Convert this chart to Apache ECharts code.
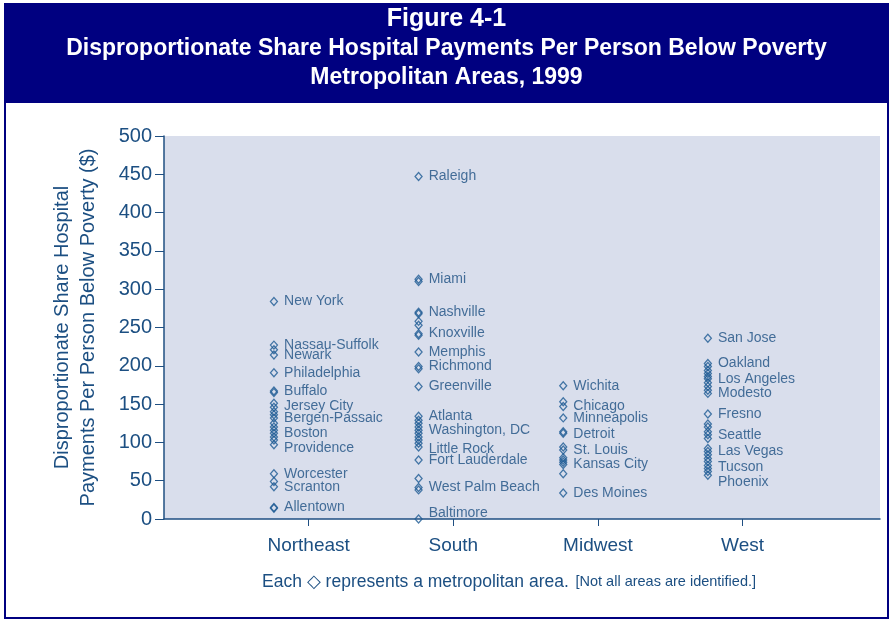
<!DOCTYPE html>
<html>
<head>
<meta charset="utf-8">
<title>Figure 4-1</title>
<script src="https://cdn.jsdelivr.net/npm/echarts@6/dist/echarts.min.js"></script>
<style>
  html, body { margin: 0; padding: 0; background: #fff; }
  #chart { width: 893px; height: 622px; }
</style>
</head>
<body>
<div id="chart"></div>
<script>
// regions on the x axis
var regions = ['Northeast', 'South', 'Midwest', 'West'];
var yTicks = [0, 50, 100, 150, 200, 250, 300, 350, 400, 450, 500];

// DSH payments per person below poverty ($)
var northeastValues = [284, 227, 221, 214, 191, 167, 165, 151, 146, 140, 136, 132, 125, 120, 116, 112, 107, 103, 97, 59, 49, 42, 15, 14];
var northeastNames  = ['New York', 'Nassau-Suffolk', '', 'Newark', 'Philadelphia', 'Buffalo', '', '', 'Jersey City', '', '', 'Bergen-Passaic', '', '', '', 'Boston', '', '', 'Providence', 'Worcester', '', 'Scranton', 'Allentown', ''];

var southValues = [447, 313, 310, 270, 268, 258, 253, 242, 240, 218, 199, 196, 173, 134, 129, 125, 120, 116, 112, 107, 103, 99, 94, 77, 53, 41, 38, 0];
var southNames  = ['Raleigh', 'Miami', '', 'Nashville', '', '', '', 'Knoxville', '', 'Memphis', 'Richmond', '', 'Greenville', 'Atlanta', '', '', '', 'Washington, DC', '', '', '', '', 'Little Rock', 'Fort Lauderdale', '', 'West Palm Beach', '', 'Baltimore'];

var midwestValues = [174, 153, 147, 132, 114, 112, 94, 90, 80, 77, 74, 71, 59, 34];
var midwestNames  = ['Wichita', '', 'Chicago', 'Minneapolis', 'Detroit', '', '', 'St. Louis', '', '', '', 'Kansas City', '', 'Des Moines'];

var westValues = [236, 203, 199, 194, 190, 186, 183, 178, 173, 168, 164, 137, 124, 120, 114, 110, 105, 92, 88, 84, 79, 75, 70, 66, 62, 57];
var westNames  = ['San Jose', 'Oakland', '', '', '', '', 'Los Angeles', '', '', '', 'Modesto', 'Fresno', '', '', '', 'Seattle', '', '', 'Las Vegas', '', '', '', 'Tucson', '', '', 'Phoenix'];

var regionValues = [northeastValues, southValues, midwestValues, westValues];
var regionNames = [northeastNames, southNames, midwestNames, westNames];

// a few labels sit a little off their diamond in the original
var labelShift = { 'Baltimore': -6, 'Phoenix': 7, 'Providence': 3, 'Jersey City': -1, 'Detroit': 2, 'Little Rock': 2, 'Tucson': 2 };

var textColor = '#1c4f82';
var lineColor = '#1f4f82';
var axisFont = 'Liberation Sans, Arial, sans-serif';

var myChart = echarts.init(document.getElementById('chart'), null, { renderer: 'canvas' });

var series = regionValues.map(function (vals, i) {
    var names = regionNames[i];
    return {
        type: 'scatter',
        name: regions[i],
        symbol: 'diamond',
        symbolSize: [7, 8],
        itemStyle: { color: 'rgba(0,0,0,0)', borderColor: '#1d5a94', borderWidth: 1.3 },
        emphasis: { disabled: true },
        data: vals.map(function (v, j) {
            var item = { value: [i + 0.76, v], name: names[j] };
            if (names[j]) item.label = { show: true };
            return item;
        }),
        label: {
            show: false,
            position: 'right',
            distance: 6,
            color: textColor,
            fontSize: 14,
            fontFamily: axisFont,
            formatter: function (p) { return p.name; }
        },
        labelLayout: function (params) {
            var dy = labelShift[params.text];
            return dy ? { dy: dy, hideOverlap: false } : { hideOverlap: false };
        }
    };
});

var option = {
    animation: false,
    backgroundColor: '#ffffff',
    grid: {
        left: 164, right: 13, top: 136, bottom: 103,
        show: true, backgroundColor: '#d9deec', borderWidth: 0
    },
    xAxis: {
        type: 'value',
        min: 0,
        max: 4.95,
        splitLine: { show: false },
        axisLine: { show: true, lineStyle: { color: lineColor, width: 1.5 } },
        axisTick: { show: true, customValues: [1, 2, 3, 4], length: 7, lineStyle: { color: lineColor } },
        axisLabel: {
            customValues: [1, 2, 3, 4],
            formatter: function (v) { return regions[Math.round(v) - 1] || ''; },
            color: textColor, fontSize: 19, margin: 17,
            fontFamily: axisFont
        }
    },
    yAxis: {
        type: 'value',
        min: yTicks[0],
        max: yTicks[yTicks.length - 1],
        interval: 50,
        splitLine: { show: false },
        axisLine: { show: true, lineStyle: { color: lineColor, width: 1.5 } },
        axisTick: { show: true, inside: false, length: 9, lineStyle: { color: lineColor } },
        axisLabel: { color: textColor, fontSize: 20, margin: 12, fontFamily: axisFont },
        name: 'Disproportionate Share Hospital\nPayments Per Person Below Poverty ($)',
        nameLocation: 'middle',
        nameGap: 63,
        nameTextStyle: { color: textColor, fontSize: 20, lineHeight: 26, fontFamily: axisFont }
    },
    graphic: [
        { type: 'rect', z: -1, shape: { x: 5, y: 4, width: 883, height: 99 }, style: { fill: '#000080' } },
        { type: 'rect', z: -1, shape: { x: 5, y: 4, width: 883, height: 614 }, style: { fill: 'rgba(0,0,0,0)', stroke: '#000080', lineWidth: 2 } },
        { type: 'text', left: 'center', top: 7, style: { text: 'Figure 4-1', fill: '#fff', font: 'bold 25px "Liberation Sans Narrow", "Arial Narrow", sans-serif' } },
        { type: 'text', left: 'center', top: 37, style: { text: 'Disproportionate Share Hospital Payments Per Person Below Poverty', fill: '#fff', font: 'bold 23px "Liberation Sans Narrow", "Arial Narrow", sans-serif' } },
        { type: 'text', left: 'center', top: 66, style: { text: 'Metropolitan Areas, 1999', fill: '#fff', font: 'bold 23px "Liberation Sans Narrow", "Arial Narrow", sans-serif' } },
        {
            type: 'text', left: 262, top: 573,
            style: {
                text: '{a|Each \u25C7 represents a metropolitan area.}  {b|[Not all areas are identified.]}',
                rich: {
                    a: { fill: textColor, fontSize: 17.5, fontFamily: axisFont },
                    b: { fill: textColor, fontSize: 14.5, fontFamily: axisFont }
                }
            }
        }
    ],
    series: series
};

myChart.setOption(option);
</script>
</body>
</html>
